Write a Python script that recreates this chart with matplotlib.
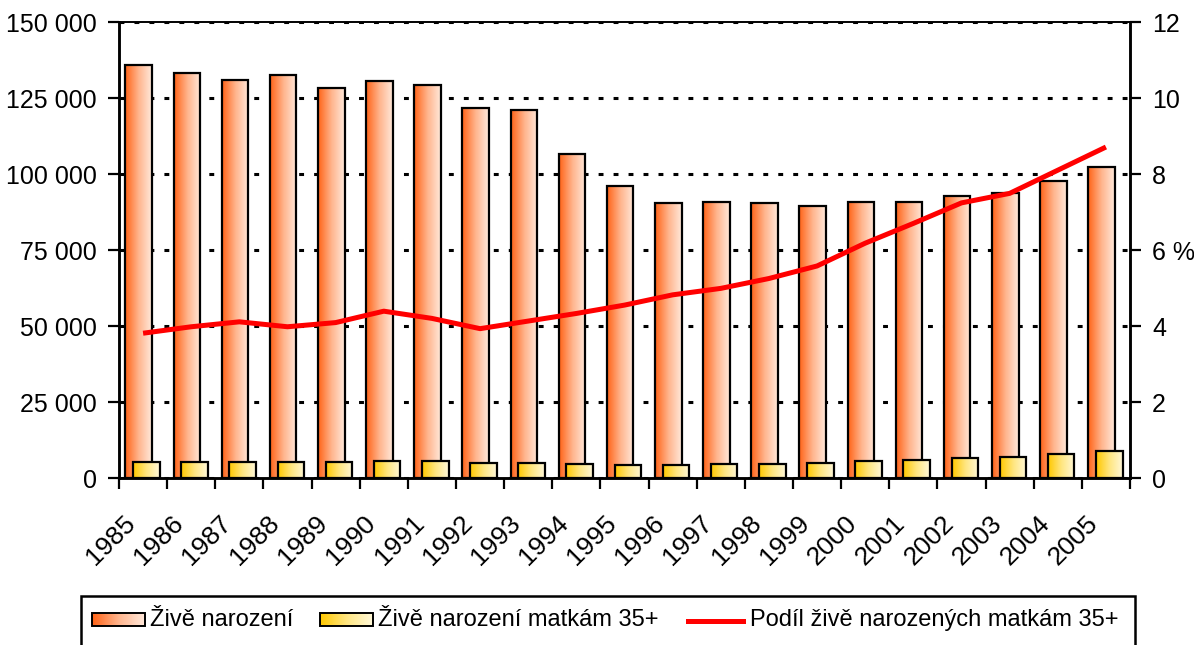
import numpy as np
import matplotlib
matplotlib.use('Agg')
import matplotlib.pyplot as plt
from matplotlib.patches import Rectangle
from matplotlib.colors import LinearSegmentedColormap

plt.rcParams['font.family'] = ['Liberation Sans', 'DejaVu Sans']

roky = [str(r) for r in range(1985, 2006)]
zive_narozeni = [135881, 133356, 130921, 132667, 128356, 130564, 129354, 121705,
                 121025, 106579, 96097, 90446, 90657, 90535, 89471, 90910,
                 90715, 92786, 93685, 97664, 102211]
matkam_35 = [5180, 5310, 5380, 5280, 5250, 5730, 5430, 4780, 5000, 4610, 4370,
             4360, 4520, 4750, 4990, 5620, 6080, 6720, 7020, 7910, 8900]
podil = [3.81, 3.98, 4.11, 3.98, 4.09, 4.39, 4.20, 3.93, 4.13, 4.33, 4.55,
         4.82, 4.99, 5.25, 5.58, 6.18, 6.70, 7.24, 7.49, 8.10, 8.71]

nazvy = ['Živě narození', 'Živě narození matkám 35+', 'Podíl živě narozených matkám 35+']

cmap_velke = LinearSegmentedColormap.from_list('o', ['#ff6418', '#ffb48c', '#ffe8da'])
cmap_male = LinearSegmentedColormap.from_list('y', ['#ffc800', '#ffe680', '#fff8d8'])
grad = np.linspace(0, 1, 64).reshape(1, -1)

fig = plt.figure(figsize=(11.94, 6.45), dpi=100)
ax = fig.add_axes([119 / 1194, 1 - 478 / 645, 1011 / 1194, 456 / 645])

x = np.arange(len(roky))
sirka = 0.55


def sloupce(osa, pozice, hodnoty, cmap, z):
    bars = osa.bar(pozice, hodnoty, width=sirka, facecolor='none',
                   edgecolor='black', linewidth=1.6, zorder=z + 1)
    for b in bars:
        x0, y0 = b.get_x(), b.get_y()
        im = osa.imshow(grad, cmap=cmap, aspect='auto', zorder=z,
                        extent=[x0, x0 + b.get_width(), y0, y0 + b.get_height()])
        im.set_clip_path(b)
    return bars


sloupce(ax, x - 0.09, zive_narozeni, cmap_velke, 2)
sloupce(ax, x + 0.07, matkam_35, cmap_male, 4)

ax.set_xlim(-0.5, len(roky) - 0.5)
ax.set_ylim(0, 150000)
ax.set_yticks(range(0, 150001, 25000))
ax.set_yticklabels([f'{v:,}'.replace(',', ' ') for v in range(0, 150001, 25000)])
ax.yaxis.grid(True, color='black', linewidth=2.2, linestyle=(0, (1.6, 3.3)), zorder=0)
ax.set_axisbelow(True)

# popisky let posunuté doleva, dílky mezi kategoriemi
ax.set_xticks(x - 0.42)
ax.set_xticklabels(roky, rotation=45, ha='right', va='top', rotation_mode='anchor')
ax.set_xticks(np.arange(-0.5, len(roky)), minor=True)
ax.tick_params(axis='x', which='major', length=0, pad=24, labelsize=19)
ax.tick_params(axis='x', which='minor', length=8, width=1.6, direction='out')
ax.tick_params(axis='y', length=8, width=1.6, labelsize=18, pad=8)
for s in ax.spines.values():
    s.set_linewidth(1.8)
ax.spines['top'].set_linewidth(1.2)

ax2 = ax.twinx()
ax2.plot(x, podil, color='#ff0000', linewidth=3.6, solid_capstyle='butt', zorder=5)
ax2.set_ylim(0, 12)
ax2.set_yticks(range(0, 13, 2))
ax2.set_yticklabels(['0', '2', '4', '6 %', '8', '10', '12'])
ax2.tick_params(axis='y', length=8, width=1.6, labelsize=18, pad=8)
for s in ax2.spines.values():
    s.set_linewidth(1.8)
ax2.spines['top'].set_linewidth(1.2)

# legenda
lg = fig.add_axes([0, 0, 1, 1], zorder=10)
lg.axis('off')
lg.add_patch(Rectangle((81, 596), 1054, 70, facecolor='white', edgecolor='black',
                       linewidth=1.8, clip_on=False))
for x0, cmap in [(92, cmap_velke), (320, cmap_male)]:
    box = Rectangle((x0, 613), 53, 13, facecolor='none', edgecolor='black', linewidth=1.4, zorder=3)
    lg.add_patch(box)
    im = lg.imshow(grad, cmap=cmap, aspect='auto', extent=[x0, x0 + 53, 626, 613], zorder=2)
    im.set_clip_path(box)
lg.plot([688, 743], [620.5, 620.5], color='#ff0000', linewidth=3.6)
for tx, s in zip([150, 378, 750], nazvy):
    lg.text(tx, 620, s, fontsize=17, va='center', ha='left')
lg.set_xlim(0, 1194)
lg.set_ylim(645, 0)

fig.savefig('out.png', dpi=100)
